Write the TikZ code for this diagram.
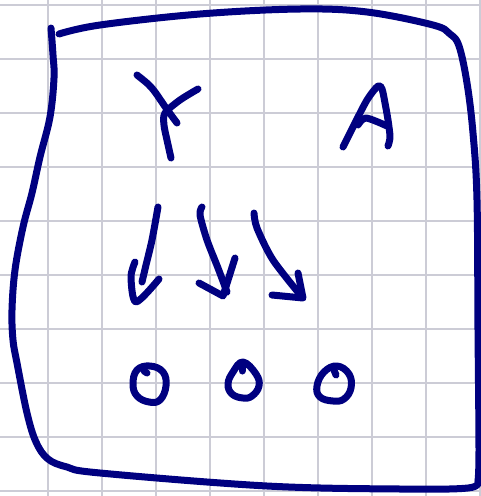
\documentclass[tikz,border=0pt]{standalone}
\definecolor{ink}{RGB}{0,0,128}
\definecolor{gridc}{RGB}{204,204,214}
\tikzset{
  pen/.style={draw=ink, line width=7pt, line cap=round, line join=round},
  gridline/.style={draw=gridc, line width=1.1pt}
}
\begin{document}
\begin{tikzpicture}[x=1pt,y=-1pt]
\useasboundingbox (0,0) rectangle (481,496);
\fill[white] (0,0) rectangle (481,496);
% grid
\foreach \gx in {48,102,156,210,264,318,372,426,480}
  \draw[gridline] (\gx,0) -- (\gx,496);
\foreach \gy in {5,59,113,167,221,275,329,383,437,491}
  \draw[gridline] (0,\gy) -- (481,\gy);
% frame: top and right side
\draw[pen] plot[smooth, tension=0.6] coordinates {(59,34) (100,25) (200,14) (300,9) (367,12) (433,25) (450,34) (459,46) (467,83) (473,133) (477,200) (478,330) (479,450) (478,481)};
% frame: left side and bottom
\draw[pen] plot[smooth, tension=0.6] coordinates {(51,28) (53,55) (54,78) (50,117) (40,157) (32,193) (23,227) (15,270) (12,310) (13,340) (17,363) (27,413) (36,442) (48,459) (67,467) (100,473) (267,486) (400,489) (468,488) (478,481)};
% Y
\draw[pen] plot[smooth, tension=0.5] coordinates {(137,75) (148,84) (155,92) (166,108) (177,123)};
\draw[pen] plot[smooth, tension=0.5] coordinates {(198,89) (180,100) (165,113) (164,125) (167,140) (171,158)};
% A
\draw[pen] plot[smooth, tension=0.5] coordinates {(343,147) (353,127) (367,100) (378,86) (382,89) (385,103) (388,120) (390,137) (388,146)};
\draw[pen] plot[smooth, tension=0.5] coordinates {(358,125) (366,118) (387,126)};
% arrow 1
\draw[pen] plot[smooth, tension=0.5] coordinates {(158,207) (152,240) (146,265) (142,282)};
\draw[pen] plot[smooth, tension=0.5] coordinates {(135,262) (131,277) (136,302) (159,279)};
% arrow 2
\draw[pen] plot[smooth, tension=0.5] coordinates {(202,207) (200,215) (207,240) (218,268) (227,292)};
\draw[pen] (199,283) -- (223,296) -- (235,258);
% arrow 3
\draw[pen] plot[smooth, tension=0.5] coordinates {(254,213) (257,228) (273,260) (302,297)};
\draw[pen] (272,295) -- (303,298) -- (298,273);
% O 1
\draw[pen] plot[smooth cycle, tension=0.7] coordinates {(150,366) (163,372) (166,386) (160,400) (149,402) (137,396) (133,384) (137,370)};
\draw[pen] (144,371) -- (147,373);
% O 2
\draw[pen] plot[smooth cycle, tension=0.7] coordinates {(243,362) (256,374) (259,386) (252,396) (243,398) (232,394) (228,384) (233,372)};
\draw[pen] (242,366) -- (242,371);
% O 3
\draw[pen] plot[smooth cycle, tension=0.7] coordinates {(337,366) (349,374) (351,388) (344,399) (333,401) (320,397) (317,386) (324,372)};
\draw[pen] (334,370) -- (336,375);
\end{tikzpicture}
\end{document}
